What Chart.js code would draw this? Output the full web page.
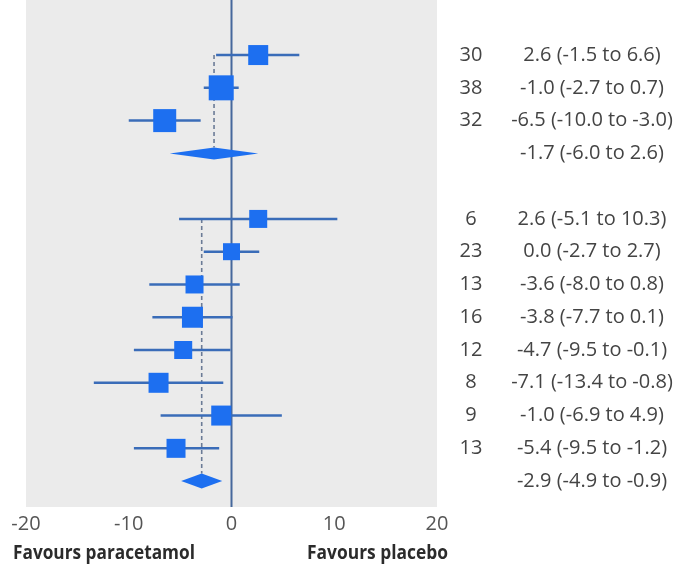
<!DOCTYPE html>
<html>
<head>
<meta charset="utf-8">
<script src="https://cdn.jsdelivr.net/npm/chart.js@4/dist/chart.umd.min.js"></script>
<style>
  html, body { margin: 0; padding: 0; background: #fff; }
  #wrap { width: 681px; height: 569px; position: relative; }
</style>
</head>
<body>
<div id="wrap"><canvas id="forest"></canvas></div>
<script>
// Mean difference per trial, two subgroups, each with a pooled estimate.
const groupA_n = [30, 38, 32];
const groupA_est = [2.6, -1.0, -6.5];
const groupA_lo = [-1.5, -2.7, -10.0];
const groupA_hi = [6.6, 0.7, -3.0];
const groupA_pooled = [-1.7, -6.0, 2.6]; // estimate, low, high

const groupB_n = [6, 23, 13, 16, 12, 8, 9, 13];
const groupB_est = [2.6, 0.0, -3.6, -3.8, -4.7, -7.1, -1.0, -5.4];
const groupB_lo = [-5.1, -2.7, -8.0, -7.7, -9.5, -13.4, -6.9, -9.5];
const groupB_hi = [10.3, 2.7, 0.8, 0.1, -0.1, -0.8, 4.9, -1.2];
const groupB_pooled = [-2.9, -4.9, -0.9];

const xTicks = [-20, -10, 0, 10, 20];
const leftLabel = "Favours paracetamol";
const rightLabel = "Favours placebo";

// row layout: group A on rows 1..3, pooled on 4, blank row, group B after
const rowsA = groupA_est.map((_, i) => i + 1);
const pooledRowA = rowsA.length + 1;
const rowsB = groupB_est.map((_, i) => pooledRowA + 2 + i);
const pooledRowB = rowsB[rowsB.length - 1] + 1;

// square side in px (study weight)
const sideA = [20, 25, 23];
const sideB = [18, 17, 18, 21, 18, 20, 20, 19];

const SQUARE = "#1d6ff0";
const CI = "#3a6cb8";
const ZERO = "#46689c";
const DASH = "#6b7b96";
const BG = "#ebebeb";
const TEXT = "#444";
const FONT = "'Open Sans', sans-serif";

function fmt(v) { return v.toFixed(1); }
function ciText(e, lo, hi) { return `${fmt(e)} (${fmt(lo)} to ${fmt(hi)})`; }

const studies = [
  ...groupA_est.map((e, i) => ({ y: rowsA[i], e, lo: groupA_lo[i], hi: groupA_hi[i], n: groupA_n[i], side: sideA[i] })),
  ...groupB_est.map((e, i) => ({ y: rowsB[i], e, lo: groupB_lo[i], hi: groupB_hi[i], n: groupB_n[i], side: sideB[i] })),
];
const pooled = [
  { y: pooledRowA, top: rowsA[0], e: groupA_pooled[0], lo: groupA_pooled[1], hi: groupA_pooled[2], half: 6 },
  { y: pooledRowB, top: rowsB[0], e: groupB_pooled[0], lo: groupB_pooled[1], hi: groupB_pooled[2], half: 7.5 },
];

// Plugin: grey panel, zero line, dashed pooled lines, CI whiskers.
const underlay = {
  id: "underlay",
  beforeDatasetsDraw(chart) {
    const { ctx, chartArea: a, scales: { x, y } } = chart;
    ctx.save();
    ctx.fillStyle = BG;
    ctx.fillRect(a.left, a.top, a.right - a.left, a.bottom - a.top);

    // zero line
    ctx.strokeStyle = ZERO;
    ctx.lineWidth = 2;
    ctx.beginPath();
    ctx.moveTo(x.getPixelForValue(0), a.top);
    ctx.lineTo(x.getPixelForValue(0), a.bottom);
    ctx.stroke();

    // dashed line from first trial down to the pooled diamond
    ctx.strokeStyle = DASH;
    ctx.lineWidth = 1.6;
    ctx.setLineDash([4, 3]);
    pooled.forEach((p) => {
      ctx.beginPath();
      ctx.moveTo(x.getPixelForValue(p.e), y.getPixelForValue(p.top));
      ctx.lineTo(x.getPixelForValue(p.e), y.getPixelForValue(p.y) - p.half);
      ctx.stroke();
    });
    ctx.setLineDash([]);

    // confidence intervals
    ctx.strokeStyle = CI;
    ctx.lineWidth = 2.5;
    studies.forEach((s) => {
      const py = y.getPixelForValue(s.y);
      ctx.beginPath();
      ctx.moveTo(x.getPixelForValue(s.lo), py);
      ctx.lineTo(x.getPixelForValue(s.hi), py);
      ctx.stroke();
    });
    ctx.restore();
  },
  afterDatasetsDraw(chart) {
    const { ctx, scales: { x, y } } = chart;
    ctx.save();
    ctx.fillStyle = SQUARE;
    pooled.forEach((p) => {
      const py = y.getPixelForValue(p.y);
      ctx.beginPath();
      ctx.moveTo(x.getPixelForValue(p.lo), py);
      ctx.lineTo(x.getPixelForValue(p.e), py - p.half);
      ctx.lineTo(x.getPixelForValue(p.hi), py);
      ctx.lineTo(x.getPixelForValue(p.e), py + p.half);
      ctx.closePath();
      ctx.fill();
    });
    ctx.restore();
  },
};

// Plugin: n column, estimate column and the two "favours" captions.
const sideText = {
  id: "sideText",
  afterDraw(chart) {
    const { ctx, scales: { y } } = chart;
    ctx.save();
    ctx.fillStyle = TEXT;
    ctx.font = `20px ${FONT}`;
    ctx.textAlign = "center";
    ctx.textBaseline = "middle";
    studies.forEach((s) => {
      const py = y.getPixelForValue(s.y);
      ctx.fillText(String(s.n), 471, py);
      ctx.fillText(ciText(s.e, s.lo, s.hi), 592, py);
    });
    pooled.forEach((p) => {
      ctx.fillText(ciText(p.e, p.lo, p.hi), 592, y.getPixelForValue(p.y));
    });

    // captions: set in a narrow bold face, squeezed to the reference width
    ctx.fillStyle = "#2b2b2b";
    ctx.font = `700 20px ${FONT}`;
    ctx.textAlign = "left";
    ctx.fillText(leftLabel, 13, 553, 182);
    ctx.textAlign = "right";
    ctx.fillText(rightLabel, 448, 553, 141);
    ctx.restore();
  },
};

new Chart(document.getElementById("forest"), {
  type: "scatter",
  data: {
    datasets: [{
      data: studies.map((s) => ({ x: s.e, y: s.y })),
      backgroundColor: SQUARE,
      borderWidth: 0,
      pointStyle: "rect",
      pointRadius: studies.map((s) => s.side / Math.SQRT2),
      pointHoverRadius: studies.map((s) => s.side / Math.SQRT2),
    }],
  },
  options: {
    responsive: true,
    maintainAspectRatio: false,
    animation: false,
    layout: { autoPadding: false, padding: { left: 26, right: 244, top: 0, bottom: 0 } },
    plugins: { legend: { display: false }, tooltip: { enabled: false } },
    scales: {
      x: {
        type: "linear",
        min: xTicks[0],
        max: xTicks[xTicks.length - 1],
        afterBuildTicks(scale) { scale.ticks = xTicks.map((v) => ({ value: v })); },
        afterFit(scale) { scale.height = 62; },
        grid: { display: false },
        border: { display: false },
        ticks: { color: "#555", padding: -3, font: { family: FONT, size: 20 } },
      },
      y: {
        type: "linear",
        reverse: true,
        min: -0.68,
        max: 14.79,
        display: false,
      },
    },
  },
  plugins: [underlay, sideText],
});
</script>
</body>
</html>
